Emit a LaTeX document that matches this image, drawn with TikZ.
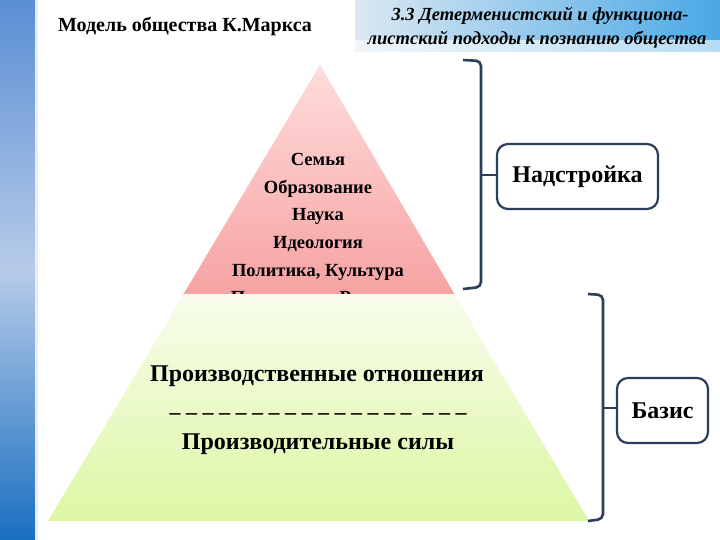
\documentclass[tikz,border=0pt]{standalone}
\usepackage{fontspec}
\setmainfont{Liberation Serif}
\usetikzlibrary{positioning}
\definecolor{brk}{HTML}{2C3E5A}
\definecolor{bandtop}{HTML}{5A8ED4}
\definecolor{bandmid}{HTML}{B6CBE8}
\definecolor{bandbot}{HTML}{1A6FC0}
\definecolor{pinktop}{HTML}{FFDCDC}
\definecolor{pinkbot}{HTML}{F6A2A2}
\definecolor{greentop}{HTML}{F8FDEC}
\definecolor{greenbot}{HTML}{DDF6A4}
\definecolor{hdrleft}{HTML}{DCE8F2}
\definecolor{hdrright}{HTML}{4AA8E6}
\tikzset{
  pyrtext/.style={font=\bfseries\fontsize{18.5}{22}\selectfont, anchor=base, inner sep=0pt},
  bigtext/.style={font=\bfseries\fontsize{24}{28}\selectfont, anchor=base, inner sep=0pt},
  labelbox/.style={draw=brk, line width=2.2pt, rounded corners=11pt, fill=white,
     font=\bfseries\fontsize{24}{28}\selectfont, inner sep=0pt},
  bracket/.style={draw=brk, line width=2.6pt, rounded corners=5pt},
  tick/.style={draw=brk, line width=2.6pt},
  hdr/.style={font=\bfseries\itshape\fontsize{18.5}{22}\selectfont, anchor=base, inner sep=0pt},
}
\begin{document}
\begin{tikzpicture}[x=1pt,y=-1pt]
\useasboundingbox (0,0) rectangle (720,540);
\fill[white] (0,0) rectangle (720,540);
% left band
\shade[top color=bandtop, bottom color=bandbot, middle color=bandmid] (0,0) rectangle (35,540);
\fill[white!92!blue] (35,0) rectangle (38,540);
% header box
\shade[left color=hdrleft, right color=hdrright] (355,0) rectangle (720,52);
\fill[white, opacity=0.6] (355,40) rectangle (720,52);
\node[hdr] (h1) at (540,21) {3.3 Детерменистский и функциона-};
\node[hdr] (h2) at (537,45) {листский подходы к познанию общества};
% title
\node[font=\bfseries\fontsize{20}{24}\selectfont, anchor=base, inner sep=0pt] (title) at (185,32) {Модель общества К.Маркса};
% pyramid top
\shade[top color=pinktop, bottom color=pinkbot] (320,65) -- (455,295) -- (183,295) -- cycle;
\node[pyrtext] (t1) at (318,166) {Семья};
\node[pyrtext] (t2) at (318,194) {Образование};
\node[pyrtext] (t3) at (318,221) {Наука};
\node[pyrtext] (t4) at (318,248) {Идеология};
\node[pyrtext] (t5) at (318,276) {Политика, Культура};
\node[pyrtext] (t6) at (320,303) {Психология, Религия};
% pyramid base
\shade[top color=greentop, bottom color=greenbot] (184,294) -- (454,294) -- (589,521) -- (48,521) -- cycle;
\node[bigtext] (b1) at (317,381) {Производственные отношения};
\node[bigtext, font=\bfseries\fontsize{22}{26}\selectfont] (b2) at (318,419) {– – – – – – – – – – – – – – – \ – – –};
\node[bigtext] (b3) at (318,449) {Производительные силы};
% upper bracket
\draw[bracket] (463,60) -- (481,61) -- (481,287) -- (463,289);
\node[labelbox, minimum width=161pt, minimum height=65pt] (nad) at (577.5,176.5) {Надстройка};
\coordinate (ub) at (481,175);
\draw[tick] (ub) -- (nad.west |- ub);
% lower bracket
\draw[bracket] (588,294) -- (603,295) -- (603,519) -- (588,521);
\node[labelbox, minimum width=91pt, minimum height=65pt] (baz) at (662.5,410.5) {Базис};
\coordinate (lb) at (603,408);
\draw[tick] (lb) -- (baz.west |- lb);
\end{tikzpicture}
\end{document}
